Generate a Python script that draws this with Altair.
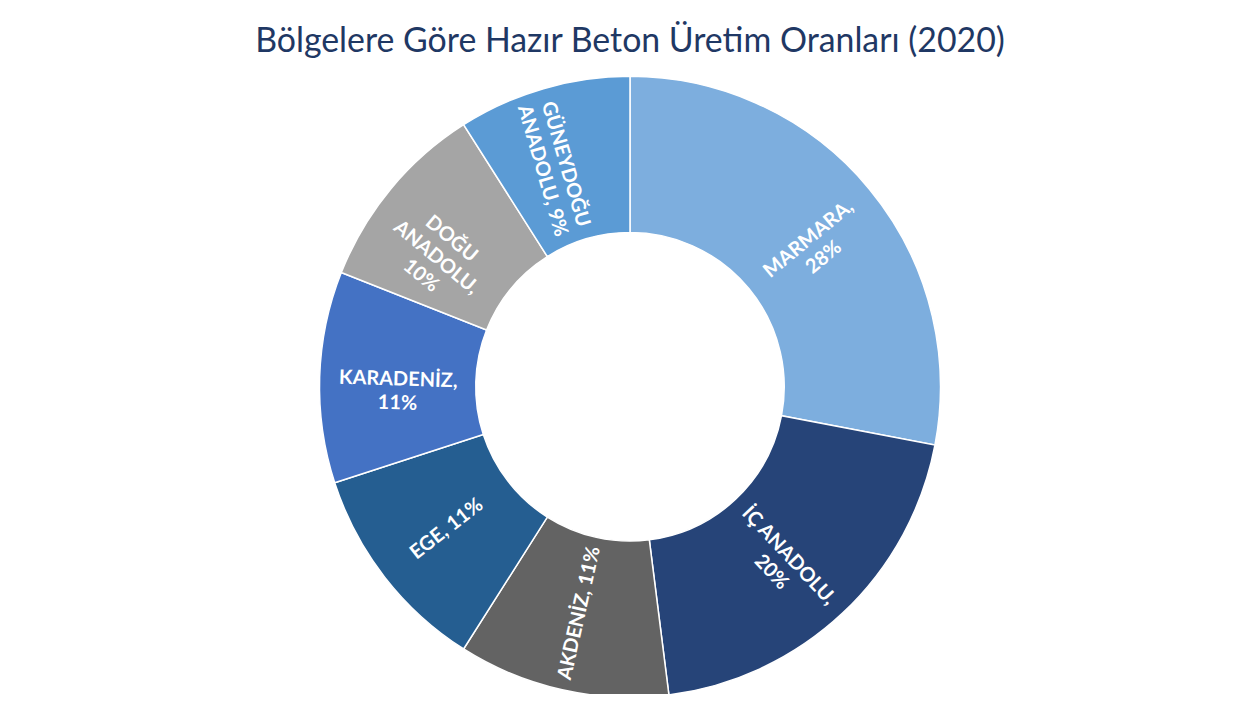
import altair as alt
import pandas as pd

regions = ["MARMARA", "İÇ ANADOLU", "AKDENİZ", "EGE", "KARADENİZ", "DOĞU ANADOLU", "GÜNEYDOĞU ANADOLU"]
shares = [28, 20, 11, 11, 11, 10, 9]
labels = ["MARMARA,\n28%", "İÇ ANADOLU,\n20%", "AKDENİZ, 11%", "EGE, 11%",
          "KARADENİZ,\n11%", "DOĞU\nANADOLU,\n10%", "GÜNEYDOĞU\nANADOLU, 9%"]
colors = ["#7DAEDE", "#264478", "#636363", "#255E91", "#4472C4", "#A5A5A5", "#5B9BD5"]

df = pd.DataFrame({"region": regions, "value": shares, "label": labels,
                   "idx": list(range(len(regions)))})

base = alt.Chart(df).transform_joinaggregate(
    total="sum(value)"
).transform_window(
    cum="sum(value)", sort=[alt.SortField("idx")], frame=[None, 0]
).transform_calculate(
    mid="(datum.cum - datum.value / 2) / datum.total * 360"
).transform_calculate(
    ang="((datum.mid <= 180 ? datum.mid - 90 : datum.mid - 270) + 360) % 360"
).encode(
    theta=alt.Theta("value:Q", stack=True),
    order=alt.Order("idx:Q"),
)

arcs = base.mark_arc(outerRadius=312, innerRadius=155, stroke="white", strokeWidth=1.5).encode(
    color=alt.Color("region:N", scale=alt.Scale(domain=regions, range=colors), legend=None),
)

text = base.mark_text(radius=233, font="Lato", fontSize=20, fontWeight="bold", color="white",
                      lineBreak="\n", lineHeight=24, align="center", baseline="middle").encode(
    text="label:N",
    angle=alt.Angle("ang:Q", scale=None),
)

chart = alt.layer(arcs, text).properties(
    width=1236, height=614,
    padding={"top": 72, "left": 7, "right": 0, "bottom": 0},
    autosize=alt.AutoSizeParams(type="none"),
    title=alt.TitleParams("Bölgelere Göre Hazır Beton Üretim Oranları (2020)",
                          font="Lato", fontSize=34, fontWeight="normal", color="#1F3864",
                          anchor="middle", offset=14),
).configure_view(stroke=None)

chart.save("out.html", embed_options={"renderer": "svg", "actions": False})
